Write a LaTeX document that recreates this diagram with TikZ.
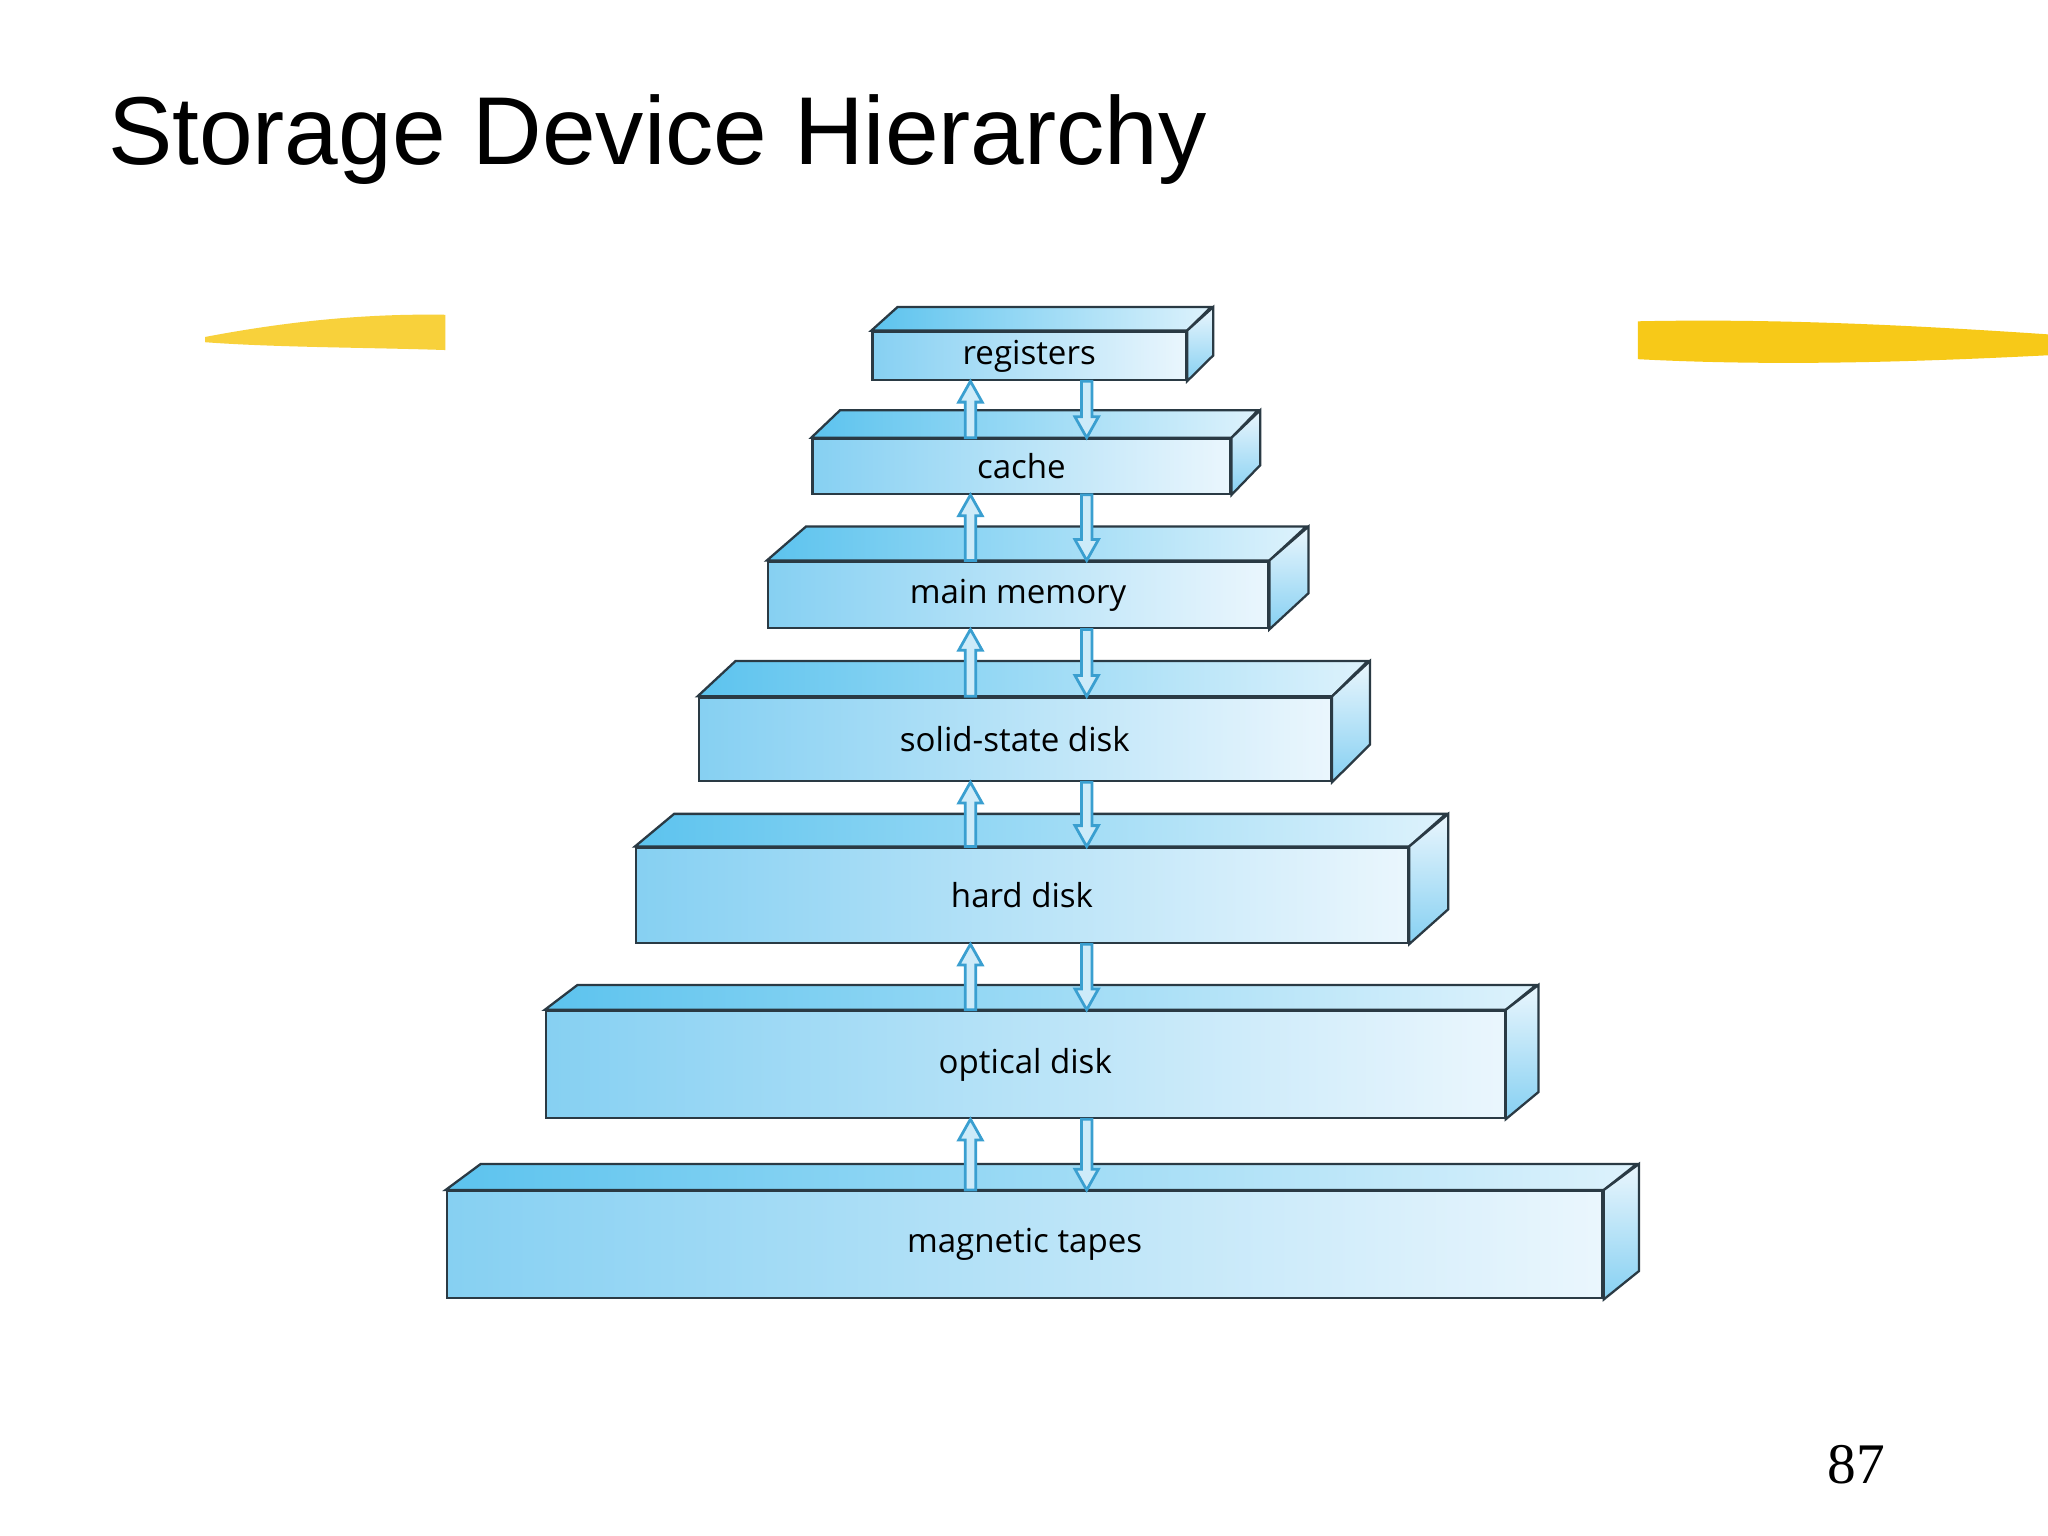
\documentclass[tikz,border=0pt]{standalone}
\usepackage{fontspec}
\setmainfont{Liberation Serif}
\newfontfamily\titlefont{Liberation Sans}
\newfontfamily\labfont{Open Sans}
\definecolor{edge}{HTML}{2A3A44}
\definecolor{dk}{HTML}{86D0F2}
\definecolor{lt}{HTML}{EAF6FD}
\definecolor{topdk}{HTML}{5CC3EE}
\definecolor{toplt}{HTML}{DDF2FC}
\definecolor{arrfill}{HTML}{CDEBF9}
\definecolor{arrline}{HTML}{3A9FD0}
\definecolor{yel}{HTML}{F7C918}
\tikzset{front/.style={draw=edge,line width=0.5pt,left color=dk,right color=lt,inner sep=0pt,font=\labfont\fontsize{7.2}{8}\selectfont},
 topface/.style={draw=edge,line width=0.5pt,left color=topdk,right color=toplt},
 sideface/.style={draw=edge,line width=0.5pt,top color=lt,bottom color=dk},
 arr/.style={draw=arrline,fill=arrfill,line width=0.6pt,line join=miter}}
\newcommand{\slab}[9]{%
 \node[front,minimum width=#3*0.01cm,minimum height=#4*0.01cm] (#1) at (#2) {#9};
 \draw[topface] (#1.north west) -- ++(#5,#6) -- ++(#3,0) -- ($(#1.north east)$) -- cycle;
 \draw[sideface] (#1.north east) -- ++(#5,#6) -- ++(0,#4) -- (#1.south east) -- cycle;}
\newcommand{\uparr}[3]{%
 \path (#3,0 |- #1.south) coordinate (t) (#3,0 |- #2.north) coordinate (b);
 \draw[arr] (b) ++(-4,0) -- ($(t)+(-4,16)$) -- ++(-5,0) -- (t) -- ++(9,16) -- ++(-5,0) -- ($(b)+(4,0)$) -- cycle;}
\newcommand{\downarr}[3]{%
 \path (#3,0 |- #1.south) coordinate (t) (#3,0 |- #2.north) coordinate (b);
 \draw[arr] (t) ++(-4,0) -- ($(b)+(-4,-16)$) -- ++(-5,0) -- (b) -- ++(9,-16) -- ++(-5,0) -- ($(t)+(4,0)$) -- cycle;}
\usetikzlibrary{calc}
\begin{document}
\begin{tikzpicture}[x=0.01cm,y=-0.01cm]
\useasboundingbox[fill=white] (0,0) rectangle (1568,1176);
\node[anchor=base west,inner sep=0pt,font=\titlefont\fontsize{21}{24}\selectfont] (title) at (82,126) {Storage Device Hierarchy};
\node[anchor=base east,inner sep=0pt,font=\fontsize{12.5}{14}\selectfont] (pg) at (1444,1136) {87};
% yellow strokes
\fill[yel!85] (157,258) .. controls (220,246) and (280,240) .. (341,241) -- (341,268) .. controls (280,266) and (210,266) .. (157,262) -- cycle;
\fill[yel] (1254,246) .. controls (1350,244) and (1450,248) .. (1568,256) -- (1568,272) .. controls (1450,278) and (1350,280) .. (1254,275) -- cycle;
\slab{reg}{788,272.5}{240}{37}{20}{-18}{}{}{registers}
\slab{cache}{782,357}{320}{42}{22}{-21}{}{}{cache}
\slab{mem}{779.5,455.5}{383}{51}{30}{-26}{}{}{main memory}
\slab{ssd}{777,566}{484}{64}{29}{-27}{}{}{solid-state disk}
\slab{hd}{782.5,685.5}{591}{73}{30}{-25}{}{}{hard disk}
\slab{od}{785,815}{734}{82}{25}{-19}{}{}{optical disk}
\slab{mt}{784.5,953}{885}{82}{27}{-20}{}{}{magnetic tapes}
\uparr{reg}{cache}{743}\downarr{reg}{cache}{832}
\uparr{cache}{mem}{743}\downarr{cache}{mem}{832}
\uparr{mem}{ssd}{743}\downarr{mem}{ssd}{832}
\uparr{ssd}{hd}{743}\downarr{ssd}{hd}{832}
\uparr{hd}{od}{743}\downarr{hd}{od}{832}
\uparr{od}{mt}{743}\downarr{od}{mt}{832}
\end{tikzpicture}
\end{document}
